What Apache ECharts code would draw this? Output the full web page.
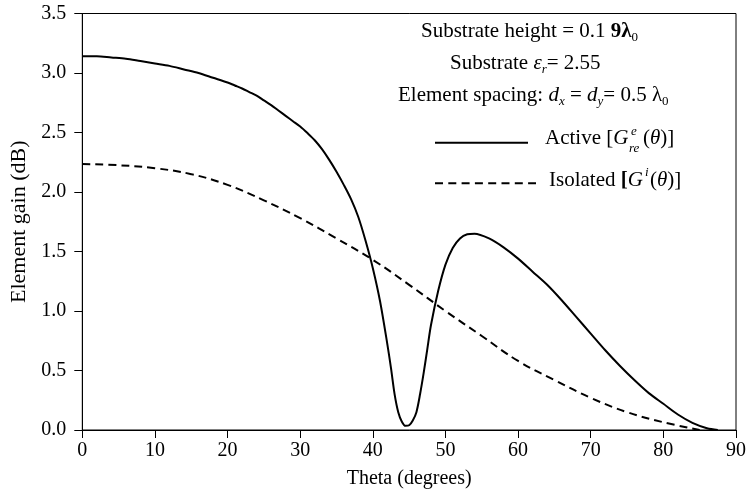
<!DOCTYPE html>
<html>
<head>
<meta charset="utf-8">
<script src="https://cdn.jsdelivr.net/npm/echarts@6/dist/echarts.min.js"></script>
<style>html,body{margin:0;padding:0;background:#fff;}#c{width:749px;height:494px;}</style>
</head>
<body>
<div id="c"></div>
<script>
// ---- data ----
const activeTheta = [0,2,4,6,8,10,12,14,16,18,20,21,22,23,24,25,26,27,28,29,30,31,32,33,34,35,36,37,38,39,40,41,42,42.5,43,43.5,44,44.5,45,45.5,46,46.5,47,47.5,48,49,50,51,52,53,54,56,58,60,62,64,66,68,70,72,74,76,78,80,82,84,86,87.5];
const activeGain  = [3.14,3.14,3.13,3.12,3.10,3.08,3.06,3.03,3.00,2.96,2.92,2.895,2.87,2.84,2.81,2.77,2.73,2.685,2.64,2.595,2.55,2.495,2.435,2.36,2.27,2.17,2.06,1.94,1.79,1.59,1.36,1.08,0.72,0.52,0.30,0.15,0.07,0.035,0.04,0.08,0.15,0.30,0.48,0.68,0.88,1.17,1.39,1.53,1.61,1.645,1.65,1.61,1.535,1.44,1.33,1.22,1.09,0.95,0.81,0.67,0.54,0.42,0.31,0.22,0.13,0.06,0.015,0.0];
const isoTheta = [0,5,10,15,20,25,30,35,40,45,50,55,60,65,70,75,80,85];
const isoGain  = [2.235,2.225,2.20,2.15,2.06,1.93,1.78,1.61,1.43,1.22,1.00,0.79,0.58,0.42,0.27,0.15,0.065,0.0];
const xTicks = {min:0, max:90, interval:10};
const yTicks = {min:0, max:3.5, interval:0.5};

const FONT = '"Liberation Serif","Times New Roman",serif';
const chart = echarts.init(document.getElementById('c'), null, {renderer:'canvas'});

const FS = 21;
const rich = {
  n:{fontFamily:FONT,fontSize:FS,fill:'#000',lineHeight:26},
  b:{fontFamily:FONT,fontSize:FS,fill:'#000',fontWeight:'bold',lineHeight:26},
  i:{fontFamily:FONT,fontSize:FS,fill:'#000',fontStyle:'italic',lineHeight:26},
  sub:{fontFamily:FONT,fontSize:13,fill:'#000',lineHeight:26,verticalAlign:'bottom'},
  isub:{fontFamily:FONT,fontSize:13,fill:'#000',fontStyle:'italic',lineHeight:26,verticalAlign:'bottom'}
};

chart.setOption({
  animation:false,
  backgroundColor:'#fff',
  grid:{left:82.3, right:12.5, top:13.5, bottom:63, show:true, borderColor:'#000', borderWidth:1},
  xAxis:{type:'value', min:xTicks.min, max:xTicks.max, interval:xTicks.interval,
    name:'Theta (degrees)', nameLocation:'middle', nameGap:39,
    nameTextStyle:{fontFamily:FONT,fontSize:20,color:'#000'},
    axisLine:{lineStyle:{color:'#000',width:1}},
    axisTick:{inside:false,length:8,lineStyle:{color:'#000'}},
    axisLabel:{fontFamily:FONT,fontSize:20,color:'#000',margin:11},
    splitLine:{show:false}},
  yAxis:{type:'value', min:yTicks.min, max:yTicks.max, interval:yTicks.interval,
    name:'Element gain (dB)', nameLocation:'middle', nameGap:51,
    nameTextStyle:{fontFamily:FONT,fontSize:22,color:'#000'},
    axisLine:{show:true,lineStyle:{color:'#000',width:1}},
    axisTick:{show:true,inside:false,length:8,lineStyle:{color:'#000'}},
    axisLabel:{fontFamily:FONT,fontSize:20,color:'#000',margin:16,formatter:v=>v.toFixed(1)},
    splitLine:{show:false}},
  series:[
    {type:'line', name:'Active', data:activeTheta.map((t,k)=>[t,activeGain[k]]), smooth:0.3, symbol:'none',
     lineStyle:{color:'#000',width:2}},
    {type:'line', name:'Isolated', data:isoTheta.map((t,k)=>[t,isoGain[k]]), smooth:0.4, symbol:'none',
     lineStyle:{color:'#000',width:2,type:[8,5]}}
  ],
  graphic:[
    {type:'text', left:421, top:21, style:{text:'{n|Substrate height = 0.1 }{b|9λ}{sub|0}', rich:rich}},
    {type:'text', left:450, top:53, style:{text:'{n|Substrate }{i|ε}{isub|r}{n|= 2.55}', rich:rich}},
    {type:'text', left:398, top:85, style:{text:'{n|Element spacing: }{i|d}{isub|x}{n| = }{i|d}{isub|y}{n|= 0.5 λ}{sub|0}', rich:rich}},
    {type:'line', shape:{x1:435,y1:142.7,x2:528,y2:142.7}, style:{stroke:'#000',lineWidth:2}},
    {type:'line', shape:{x1:435,y1:183.3,x2:536,y2:183.3}, style:{stroke:'#000',lineWidth:2,lineDash:[8,5.3]}},
    {type:'text', left:545, top:128, style:{text:'{n|Active [}{i|G}', rich:rich}},
    {type:'text', left:631, top:125, style:{text:'e', font:'italic 13px '+FONT, fill:'#000'}},
    {type:'text', left:629, top:142, style:{text:'re', font:'italic 13px '+FONT, fill:'#000'}},
    {type:'text', left:643, top:128, style:{text:'{n|(}{i|θ}{n|)]}', rich:rich}},
    {type:'text', left:549, top:170, style:{text:'{n|Isolated }{b|[}{i|G}', rich:rich}},
    {type:'text', left:645, top:166, style:{text:'i', font:'italic 13px '+FONT, fill:'#000'}},
    {type:'text', left:650, top:170, style:{text:'{n|(}{i|θ}{n|)]}', rich:rich}}
  ]
});
</script>
</body>
</html>
